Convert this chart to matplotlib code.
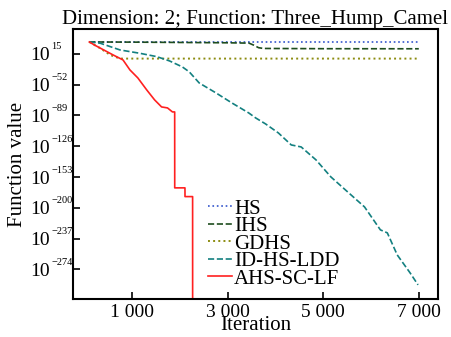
import numpy as np
import matplotlib.pyplot as plt
import matplotlib.transforms as mtransforms

plt.rcParams['font.family'] = ['Liberation Serif', 'DejaVu Serif']

# log10 of best function value, on an evenly spaced display scale
hs_x = [110, 7000]
hs_y = [29.6, 29.6]

ihs_x = [110, 1000, 2000, 3000, 3450, 3550, 3650, 3750, 5000, 7000]
ihs_y = [29.4, 29.2, 28.8, 28.4, 28.0, 25.5, 22.5, 21.6, 21.3, 21.2]

gdhs_x = [110, 337, 545, 752, 7000]
gdhs_y = [29.4, 21.9, 13.8, 9.4, 9.4]

idhs_x = [110, 337, 752, 1166, 1518, 1787, 2056, 2201, 2408, 2760, 3091, 3443,
          3588, 3795, 4064, 4333, 4540, 4851, 5161, 5513, 5865, 6197, 6342,
          6549, 6818, 6984]
idhs_y = [29.4, 27.9, 19.8, 15.8, 11.8, 6.6, -0.6, -6.6, -19.9, -31.9, -43.9,
          -55.9, -61.9, -69.1, -80.0, -94.4, -96.8, -112.4, -132.8, -150.9,
          -168.9, -196.5, -200.1, -226.6, -248.2, -262.6]

ahs_x = [110, 234, 607, 814, 959, 1124, 1311, 1476, 1621, 1745, 1848, 1895,
         1896, 2110, 2111, 2270, 2271]
ahs_y = [29.4, 25.2, 13.8, 7.8, -4.2, -13.8, -28.3, -40.3, -48.7, -49.9,
         -54.7, -54.7, -146.0, -146.0, -156.5, -156.5, -400.0]

x_ticks = [1000, 3000, 5000, 7000]
x_labels = ['1 000', '3 000', '5 000', '7 000']
y_ticks = [15 - 37 * k for k in range(8)]
y_exps = ['15', '−52', '−89', '−126', '−153', '−200', '−237', '−274']

fig = plt.figure(figsize=(4.51, 3.37), dpi=100)
ax = fig.add_axes([0.162, 0.113, 0.809, 0.801])

ax.plot(hs_x, hs_y, ':', color='#3355cc', lw=1.2, label='HS')
ax.plot(ihs_x, ihs_y, '--', color='#1e4d1e', lw=1.2, label='IHS')
ax.plot(gdhs_x, gdhs_y, ':', color='#8c8c10', lw=1.4, label='GDHS')
ax.plot(idhs_x, idhs_y, '--', color='#138080', lw=1.2, label='ID-HS-LDD')
ax.plot(ahs_x, ahs_y, '-', color='#ff2020', lw=1.2, label='AHS-SC-LF')

ax.set_xlim(-230, 7400)
ax.set_ylim(-279.5, 45)
ax.set_xticks(x_ticks)
ax.set_xticklabels(x_labels)
ax.set_yticks(y_ticks)
ax.set_yticklabels(['10'] * len(y_ticks))
ax.tick_params(direction='in', length=5, width=1.2, labelsize=14, pad=4)
ax.tick_params(axis='y', pad=16.5)
for sp in ax.spines.values():
    sp.set_linewidth(1.5)

# small superscript exponents next to the "10" tick labels
trans = mtransforms.blended_transform_factory(ax.transAxes, ax.transData)
trans = trans + mtransforms.ScaledTranslation(0, 5 / 72, fig.dpi_scale_trans)
for t, e in zip(y_ticks, y_exps):
    ax.text(-0.059, t, e, transform=trans, fontsize=7.5, ha='left', va='center')

ax.set_title('Dimension: 2; Function: Three_Hump_Camel', fontsize=15, pad=3)
ax.set_xlabel('Iteration', fontsize=15, labelpad=-4)
ax.set_ylabel('Function value', fontsize=15)
ax.yaxis.set_label_coords(-0.126, 0.5)

ax.legend(loc='upper left', bbox_to_anchor=(0.37, 0.37), frameon=False,
          fontsize=15, handlelength=1.15, handletextpad=0.1, labelspacing=-0.1,
          borderpad=0, borderaxespad=0)

fig.savefig('out.png', dpi=100)
